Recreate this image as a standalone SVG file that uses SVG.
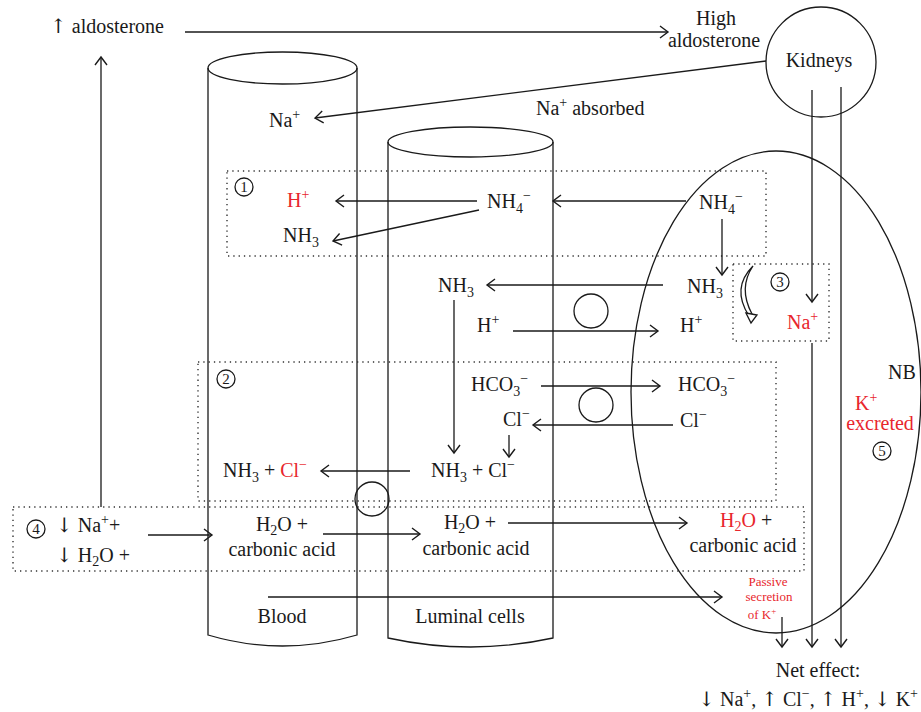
<svg xmlns="http://www.w3.org/2000/svg" width="921" height="712" viewBox="0 0 921 712">
<style>
text{font-family:"Liberation Serif","Times New Roman",serif;font-size:20px;fill:#1a1a1a}
.red{fill:#e8262d}
.sm{font-size:13px}
.s{font-size:14px}
.ar{font-family:"DejaVu Serif","DejaVu Sans",serif;font-size:20px}
.ln{stroke:#1a1a1a;stroke-width:1.3;fill:none}
.arr{stroke:#1a1a1a;stroke-width:1.3;fill:none;marker-end:url(#ah)}
.dot{stroke:#333;stroke-width:1.4;fill:none;stroke-dasharray:1.3 4}
.num{font-size:15px;text-anchor:middle}
.mid{text-anchor:middle}
</style>
<defs>
<marker id="ah" viewBox="-11 -8 13 16" markerWidth="13" markerHeight="16" refX="0" refY="0" orient="auto" markerUnits="userSpaceOnUse">
<path d="M-8,-6 L0,0 L-8,6" fill="none" stroke="#1a1a1a" stroke-width="1.4"/>
</marker>
</defs>
<rect width="921" height="712" fill="#fff"/>

<g id="blood-cylinder">
<path class="ln" d="M208,68 L208,635 Q282.5,657 357,635 L357,68"/>
<ellipse class="ln" cx="282.5" cy="68" rx="74.5" ry="16"/>
<text x="282" y="623" class="mid">Blood</text>
</g>
<g id="luminal-cylinder">
<path class="ln" d="M388,142 L388,638 Q470.5,656 553,638 L553,142"/>
<ellipse class="ln" cx="470.5" cy="142" rx="82.5" ry="15"/>
<text x="470" y="623" class="mid">Luminal cells</text>
</g>
<g id="nephron-ellipse">
<ellipse class="ln" cx="776" cy="392" rx="145" ry="241"/>
</g>
<g id="kidneys">
<circle class="ln" cx="821" cy="62" r="55"/>
<text x="819" y="67" class="mid">Kidneys</text>
</g>

<g id="boxes">
<rect class="dot" x="227" y="171" width="539" height="85"/>
<rect class="dot" x="733" y="264" width="96" height="77"/>
<rect class="dot" x="198" y="362" width="578" height="139"/>
<rect class="dot" x="13" y="507" width="791" height="64"/>
</g>

<g id="exchanger-circles">
<circle class="ln" cx="591" cy="311" r="17"/>
<circle class="ln" cx="596" cy="405" r="17"/>
<circle class="ln" cx="372" cy="499" r="17"/>
</g>

<g id="labels-top">
<text x="50" y="33"><tspan class="ar">↑</tspan> aldosterone</text>
<text x="716" y="25" class="mid">High</text>
<text x="714" y="47" class="mid">aldosterone</text>
<text x="269" y="127">Na<tspan class="s" dy="-8">+</tspan></text>
<text x="536" y="115">Na<tspan class="s" dy="-8">+</tspan><tspan dy="8"> absorbed</tspan></text>
</g>

<g id="step1">
<circle class="ln" cx="244" cy="187" r="9"/>
<text x="244" y="192" class="num">1</text>
<text x="287" y="207" class="red">H<tspan class="s" dy="-8">+</tspan></text>
<text x="283" y="242">NH<tspan class="s" dy="5">3</tspan></text>
<text x="487" y="208">NH<tspan class="s" dy="5">4</tspan><tspan class="s" dy="-13">−</tspan></text>
<text x="699" y="209">NH<tspan class="s" dy="5">4</tspan><tspan class="s" dy="-13">−</tspan></text>
</g>

<g id="exchange-nh3-h">
<text x="687" y="293">NH<tspan class="s" dy="5">3</tspan></text>
<text x="438" y="292">NH<tspan class="s" dy="5">3</tspan></text>
<text x="477" y="332">H<tspan class="s" dy="-8">+</tspan></text>
<text x="680" y="332">H<tspan class="s" dy="-8">+</tspan></text>
</g>

<g id="step3">
<path d="M753,266 Q731,288 749,316 L752,314 Q738,288 753,266 Z" fill="#fff" stroke="#1a1a1a" stroke-width="1.3"/>
<polygon points="746,313 757,315 751,323" fill="#fff" stroke="#1a1a1a" stroke-width="1.3"/>
<circle class="ln" cx="780" cy="282" r="9"/>
<text x="780" y="287" class="num">3</text>
<text x="787" y="329" class="red">Na<tspan class="s" dy="-8">+</tspan></text>
</g>

<g id="step2">
<circle class="ln" cx="226" cy="379" r="9"/>
<text x="226" y="384" class="num">2</text>
<text x="471" y="391">HCO<tspan class="s" dy="5">3</tspan><tspan class="s" dy="-13">−</tspan></text>
<text x="678" y="391">HCO<tspan class="s" dy="5">3</tspan><tspan class="s" dy="-13">−</tspan></text>
<text x="503" y="426">Cl<tspan class="s" dy="-8">−</tspan></text>
<text x="680" y="427">Cl<tspan class="s" dy="-8">−</tspan></text>
<text x="431" y="477">NH<tspan class="s" dy="5">3</tspan><tspan dy="-5"> + Cl</tspan><tspan class="s" dy="-8">−</tspan></text>
<text x="223" y="477">NH<tspan class="s" dy="5">3</tspan><tspan dy="-5"> + </tspan><tspan class="red" dy="0">Cl</tspan><tspan class="s red" dy="-8">−</tspan></text>
</g>

<g id="step4">
<circle class="ln" cx="36" cy="529" r="9"/>
<text x="36" y="534" class="num">4</text>
<text x="56" y="532"><tspan class="ar">↓</tspan> Na<tspan class="s" dy="-8">+</tspan><tspan dy="8">+</tspan></text>
<text x="56" y="562"><tspan class="ar">↓</tspan> H<tspan class="s" dy="4">2</tspan><tspan dy="-4">O +</tspan></text>
<text x="282" y="531" class="mid">H<tspan class="s" dy="4">2</tspan><tspan dy="-4">O +</tspan></text>
<text x="282" y="556" class="mid">carbonic acid</text>
<text x="470" y="529" class="mid">H<tspan class="s" dy="4">2</tspan><tspan dy="-4">O +</tspan></text>
<text x="476" y="555" class="mid">carbonic acid</text>
<text x="720" y="527"><tspan class="red">H</tspan><tspan class="s red" dy="4">2</tspan><tspan class="red" dy="-4">O</tspan> +</text>
<text x="743" y="552" class="mid">carbonic acid</text>
</g>

<g id="step5">
<text x="888" y="379" font-size="18">NB</text>
<text x="855" y="410" class="red">K<tspan class="s" dy="-8">+</tspan></text>
<text x="880" y="430" class="red mid">excreted</text>
<circle class="ln" cx="882" cy="451" r="9"/>
<text x="882" y="456" class="num">5</text>
</g>

<g id="passive-secretion">
<text x="768" y="586" class="red mid sm">Passive</text>
<text x="769" y="601" class="red mid sm">secretion</text>
<text x="762" y="619" class="red mid sm">of K<tspan font-size="9" dy="-5">+</tspan></text>
</g>

<g id="net-effect">
<text x="818" y="677" class="mid">Net effect:</text>
<text x="918" y="706" text-anchor="end"><tspan class="ar">↓</tspan> Na<tspan class="s" dy="-8">+</tspan><tspan dy="8">, </tspan><tspan class="ar">↑</tspan> Cl<tspan class="s" dy="-8">−</tspan><tspan dy="8">, </tspan><tspan class="ar">↑</tspan> H<tspan class="s" dy="-8">+</tspan><tspan dy="8">, </tspan><tspan class="ar">↓</tspan> K<tspan class="s" dy="-8">+</tspan></text>
</g>

<g id="connectors">
<path class="arr" d="M185,32 L668,32"/>
<path class="arr" d="M101,507 L101,57"/>
<path class="arr" d="M766,61 L315,118"/>
<path class="arr" d="M812,90 L812,302"/>
<path class="arr" d="M812,343 L812,647"/>
<path class="arr" d="M841,87 L841,647"/>
<path class="arr" d="M782,617 L782,647"/>
<path class="arr" d="M477,201 L336,201"/>
<path class="arr" d="M479,210 L333,241"/>
<path class="arr" d="M686,201 L553,201"/>
<path class="arr" d="M722,219 L722,275"/>
<path class="arr" d="M663,285 L487,285"/>
<path class="arr" d="M513,331 L658,331"/>
<path class="arr" d="M454,300 L454,453"/>
<path class="arr" d="M541,386 L660,386"/>
<path class="arr" d="M673,425 L533,425"/>
<path class="arr" d="M509,435 L509,457"/>
<path class="arr" d="M410,471 L321,471"/>
<path class="arr" d="M148,535 L212,535"/>
<path class="arr" d="M323,534 L420,534"/>
<path class="arr" d="M508,523 L687,523"/>
<path class="arr" d="M268,597 L722,597"/>
</g>
</svg>
